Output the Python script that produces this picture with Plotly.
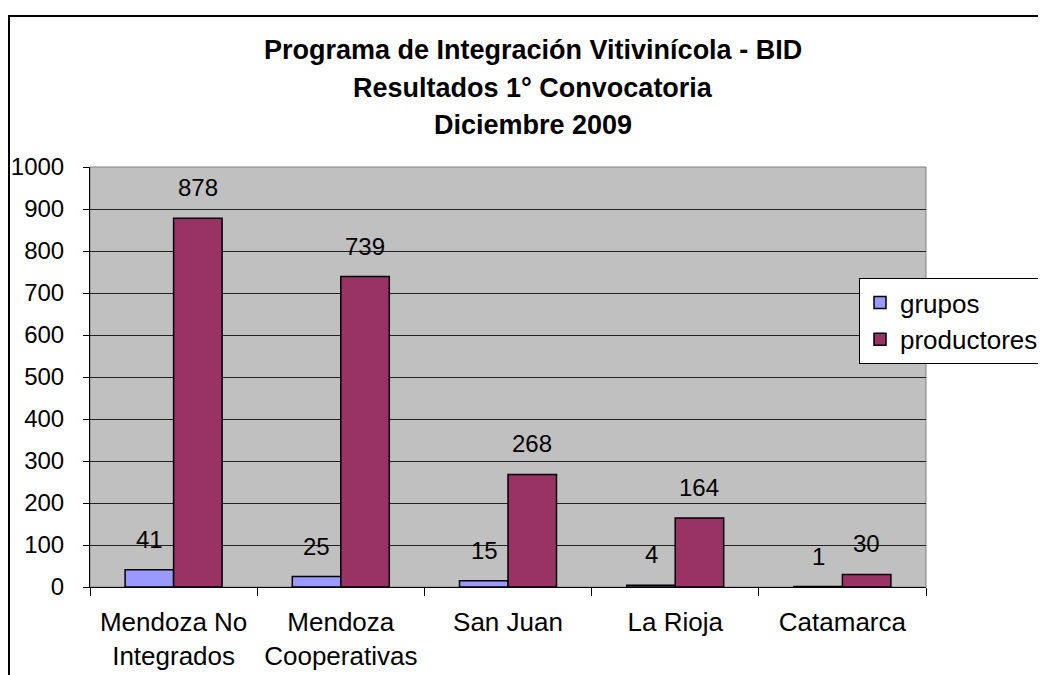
import plotly.graph_objects as go

categories = ["Mendoza No<br>Integrados", "Mendoza<br>Cooperativas", "San Juan", "La Rioja", "Catamarca"]
grupos = [41, 25, 15, 4, 1]
productores = [878, 739, 268, 164, 30]
title_lines = ["Programa de Integración Vitivinícola - BID", "Resultados 1° Convocatoria", "Diciembre 2009"]
y_ticks = list(range(0, 1001, 100))

FONT = "Liberation Sans, Arial, sans-serif"
OFF = 8  # default page body margin
W, H = 1046 - OFF, 675 - OFF
L, T = 90 - OFF, 167 - OFF
R = W - (926 - OFF)
B = H - (587 - OFF)
pw, ph = W - L - R, H - T - B

def px_x(x):
    return (x - OFF - L) / pw

def px_y(y):
    return (H - B - (y - OFF)) / ph

fig = go.Figure()
fig.add_trace(go.Bar(name="grupos", x=categories, y=grupos,
                     marker=dict(color="#9999FF", line=dict(color="black", width=1.5))))
fig.add_trace(go.Bar(name="productores", x=categories, y=productores,
                     marker=dict(color="#993366", line=dict(color="black", width=1.5))))

annotations = []
for vals, shift in ((grupos, -24), (productores, 24)):
    for c, v in zip(categories, vals):
        annotations.append(dict(x=c, y=v, xref="x", yref="y", text=str(v), showarrow=False,
                                xshift=shift, yshift=15, yanchor="bottom",
                                font=dict(family=FONT, size=24, color="black")))
for line, yp in zip(title_lines, (50, 88, 125)):
    annotations.append(dict(x=px_x(533), y=px_y(yp), xref="paper", yref="paper", text="<b>" + line + "</b>",
                            showarrow=False, xanchor="center", yanchor="middle",
                            font=dict(family=FONT, size=27, color="black")))

fig.update_layout(
    width=W, height=H,
    margin=dict(l=L, r=R, t=T, b=B, autoexpand=False),
    paper_bgcolor="white", plot_bgcolor="#C0C0C0",
    barmode="group", bargap=0.42, bargroupgap=0,
    font=dict(family=FONT, size=24, color="black"),
    annotations=annotations,
    legend=dict(x=px_x(859), y=px_y(278), xanchor="left", yanchor="top",
                bgcolor="white", bordercolor="black", borderwidth=1,
                font=dict(family=FONT, size=26, color="black")),
    shapes=[
        dict(type="rect", xref="paper", yref="paper", x0=0, x1=1, y0=0, y1=1,
             line=dict(color="#808080", width=1), layer="below"),
        dict(type="rect", xref="paper", yref="paper", x0=px_x(9), x1=2, y0=-1, y1=px_y(16),
             line=dict(color="black", width=2), layer="above"),
    ],
)
fig.update_yaxes(range=[0, 1000], tickvals=y_ticks, ticks="outside", ticklen=6, tickcolor="black",
                 showline=True, linecolor="black", linewidth=1,
                 showgrid=True, gridcolor="#222222", gridwidth=1, zeroline=False,
                 ticklabelstandoff=14, tickfont=dict(family=FONT, size=24))
fig.update_xaxes(ticks="outside", tickson="boundaries", ticklen=8, tickcolor="black",
                 showline=True, linecolor="black", linewidth=1, showgrid=False,
                 ticklabelstandoff=12, tickfont=dict(family=FONT, size=26))

fig.write_html("out.html")
